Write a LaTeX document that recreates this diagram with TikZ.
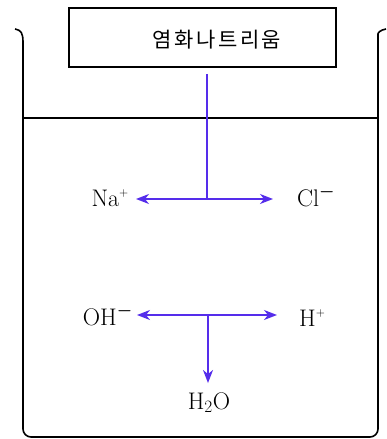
\documentclass[tikz,border=0pt]{standalone}
\usepackage{amsmath}
\usepackage{fontspec}
\newfontfamily\krfont{Noto Sans CJK KR}
\usetikzlibrary{arrows.meta}
\definecolor{arrowblue}{RGB}{85,45,235}
\tikzset{
  wall/.style={line width=1.6pt, draw=black},
  flow/.style={draw=arrowblue, line width=1.6pt, -{Stealth[length=13pt,width=10pt,inset=4pt]}},
  flowline/.style={draw=arrowblue, line width=1.6pt},
  ion/.style={font=\fontsize{24}{28}\selectfont, inner sep=0pt},
}
\begin{document}
\begin{tikzpicture}[x=1pt,y=-1pt]
\useasboundingbox (0,0) rectangle (387,439);
% beaker
\draw[wall] (15,29) .. controls (21,30) and (23,33) .. (23,42)
  [rounded corners=8pt] -- (23,437) -- (378,437) -- (378,42) [sharp corners]
  .. controls (378,33) and (380,30) .. (386,29);
\coordinate (wl) at (23,118);
\coordinate (wr) at (378,118);
\draw[wall] (wl) -- (wr);
% salt box
\node[wall, draw, minimum width=267pt, minimum height=59pt, inner sep=0pt] (salt) at (202.5,37.5) {};
\node[inner sep=0pt, font=\krfont\addfontfeature{LetterSpace=12}\fontsize{21}{24}\selectfont] (salttext) at (217,40) {염화나트리움};
% ions
\coordinate (j1) at (207,199);
\coordinate (j2) at (208,315);
\node[ion, anchor=base east] (na) at (129,206) {Na$^{\scriptscriptstyle +}$};
\node[ion, anchor=base west] (cl) at (297,206) {Cl$^{\boldsymbol{\scriptstyle -}}$};
\node[ion, anchor=base east] (oh) at (133,325) {OH$^{\boldsymbol{\scriptstyle -}}$};
\node[ion, anchor=base west] (hp) at (299,326) {H$^{\scriptscriptstyle +}$};
\node[ion, anchor=base] (h2o) at (209,409) {H$_2$O};
% connectors
\draw[flowline, shorten <=6pt] (salt.south -| j1) -- (j1);
\draw[flow, shorten >=7pt] (j1) -- (na.east |- j1);
\draw[flow, shorten >=24pt] (j1) -- (cl.west |- j1);
\draw[flow, shorten >=4pt] (j2) -- (oh.east |- j2);
\draw[flow, shorten >=22pt] (j2) -- (hp.west |- j2);
\draw[flow, shorten >=9pt] (j2) -- (j2 |- h2o.north);
\end{tikzpicture}
\end{document}
